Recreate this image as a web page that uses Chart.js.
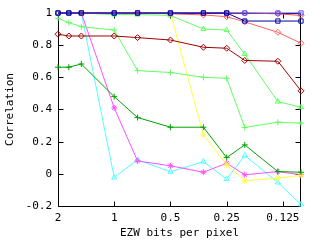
<!DOCTYPE html>
<html>
<head>
<meta charset="utf-8">
<script src="https://cdn.jsdelivr.net/npm/chart.js@4"></script>
<style>
  html, body { margin: 0; padding: 0; background: #fff; }
  #wrap { width: 320px; height: 240px; }
</style>
</head>
<body>
<div id="wrap"><canvas id="grafico"></canvas></div>
<script>
// bits per pixel (x), reversed log axis
const bpp = [2, 1.75, 1.5, 1, 0.75, 0.5, 0.333, 0.25, 0.2, 0.133, 0.1];
const xTicks = [2, 1, 0.5, 0.25, 0.125];
const yTicks = [-0.2, 0, 0.2, 0.4, 0.6, 0.8, 1];

// correlation values
const blueTop   = [1, 1, 1, 1, 1, 1, 1, 1, 1, 1, 1];
const blueDark  = [1, 1, 1, 1, 1, 1, 1, 1, 0.95, 0.95, 0.95];
const redTop    = [1, 1, 1, 1, 1, 1, 1, 1, 1, 0.995, 0.985];
const redLight  = [1, 1, 1, 1, 1, 0.995, 0.988, 0.977, 0.945, 0.88, 0.812];
const redDark   = [0.868, 0.857, 0.857, 0.857, 0.847, 0.832, 0.787, 0.781, 0.705, 0.7, 0.516];
const greenTri  = [1, 1, 1, 0.99, 0.99, 0.985, 0.9, 0.894, 0.745, 0.449, 0.414];
const greenPlus = [0.967, 0.94, 0.915, 0.894, 0.642, 0.63, 0.6, 0.594, 0.288, 0.321, 0.315];
const greenDark = [0.663, 0.663, 0.683, 0.48, 0.35, 0.29, 0.29, 0.101, 0.18, 0.014, 0.01];
const magenta   = [1, 1, 1, 0.41, 0.08, 0.05, 0.01, 0.066, -0.006, 0.014, -0.006];
const cyan      = [1, 1, 1, -0.023, 0.087, 0.013, 0.076, -0.033, 0.114, -0.054, -0.19];
const yellow    = [1, 1, 1, 1, 1, 1, 0.242, 0.056, -0.043, -0.027, -0.01];

const puntos = vals => vals.map((v, i) => ({ x: bpp[i], y: v }));

const serie = (vals, color, estilo) => ({
    data: puntos(vals),
    borderColor: color,
    backgroundColor: 'transparent',
    borderWidth: 1,
    pointStyle: estilo,
    pointRadius: 3,
    pointBorderWidth: 1,
    pointBorderColor: color,
    tension: 0,
    clip: false
});

// gnuplot-like frame with inward ticks
const marco = {
    id: 'marco',
    beforeDatasetsDraw(chart) {
        const { ctx, chartArea: a, scales } = chart;
        ctx.save();
        ctx.strokeStyle = '#000';
        ctx.lineWidth = 1;
        const l = a.left + 0.5, r = a.right - 0.5, t = a.top + 0.5, b = a.bottom + 0.5;
        ctx.beginPath();
        ctx.moveTo(l, t); ctx.lineTo(l, b); ctx.lineTo(r, b); ctx.lineTo(r, t); ctx.lineTo(l, t);
        yTicks.forEach(v => {
            const py = Math.round(scales.y.getPixelForValue(v)) + 0.5;
            ctx.moveTo(l, py); ctx.lineTo(l + 5, py);
            ctx.moveTo(r, py); ctx.lineTo(r - 5, py);
        });
        xTicks.forEach(v => {
            const px = Math.round(scales.x.getPixelForValue(v)) + 0.5;
            ctx.moveTo(px, b); ctx.lineTo(px, b - 5);
            ctx.moveTo(px, t); ctx.lineTo(px, t + 5);
        });
        ctx.stroke();
        ctx.restore();
    }
};

Chart.defaults.font.family = "'DejaVu Sans Mono', monospace";
Chart.defaults.font.size = 11;
Chart.defaults.color = '#000';

new Chart(document.getElementById('grafico').getContext('2d'), {
    type: 'line',
    data: {
        datasets: [
            serie(blueDark, '#0000a0', 'rect'),
            serie(blueTop, '#4848ff', 'rect'),
            serie(redTop, '#ff4848', 'rectRot'),
            serie(redLight, '#ff6060', 'rectRot'),
            serie(redDark, '#a00000', 'rectRot'),
            serie(greenTri, '#60ff60', 'triangle'),
            serie(greenPlus, '#60ff60', 'cross'),
            serie(greenDark, '#00a000', 'cross'),
            serie(yellow, '#ffff40', 'star'),
            serie(magenta, '#ff50ff', 'star'),
            serie(cyan, '#50ffff', 'triangle')
        ]
    },
    options: {
        responsive: true,
        maintainAspectRatio: false,
        animation: false,
        layout: { padding: { top: 13, right: 19, left: 0, bottom: 0 } },
        plugins: {
            legend: { display: false },
            tooltip: { enabled: false }
        },
        scales: {
            x: {
                type: 'logarithmic',
                reverse: true,
                min: 0.1,
                max: 2,
                afterBuildTicks: s => { s.ticks = xTicks.map(v => ({ value: v })); },
                afterFit: s => { s.height = 34; },
                grid: { display: false, drawTicks: false },
                border: { display: false },
                ticks: { padding: 6, autoSkip: false, maxRotation: 0, callback: v => String(v) },
                title: { display: true, text: 'EZW bits per pixel', padding: { top: 0, bottom: 0 } }
            },
            y: {
                min: -0.2,
                max: 1,
                afterBuildTicks: s => { s.ticks = yTicks.map(v => ({ value: v })); },
                afterFit: s => { s.width = 58; },
                grid: { display: false, drawTicks: false },
                border: { display: false },
                ticks: { padding: 6, callback: v => String(Math.round(v * 10) / 10) },
                title: { display: true, text: 'Correlation', padding: { top: 4, bottom: 0 } }
            }
        }
    },
    plugins: [marco]
});
</script>
</body>
</html>
